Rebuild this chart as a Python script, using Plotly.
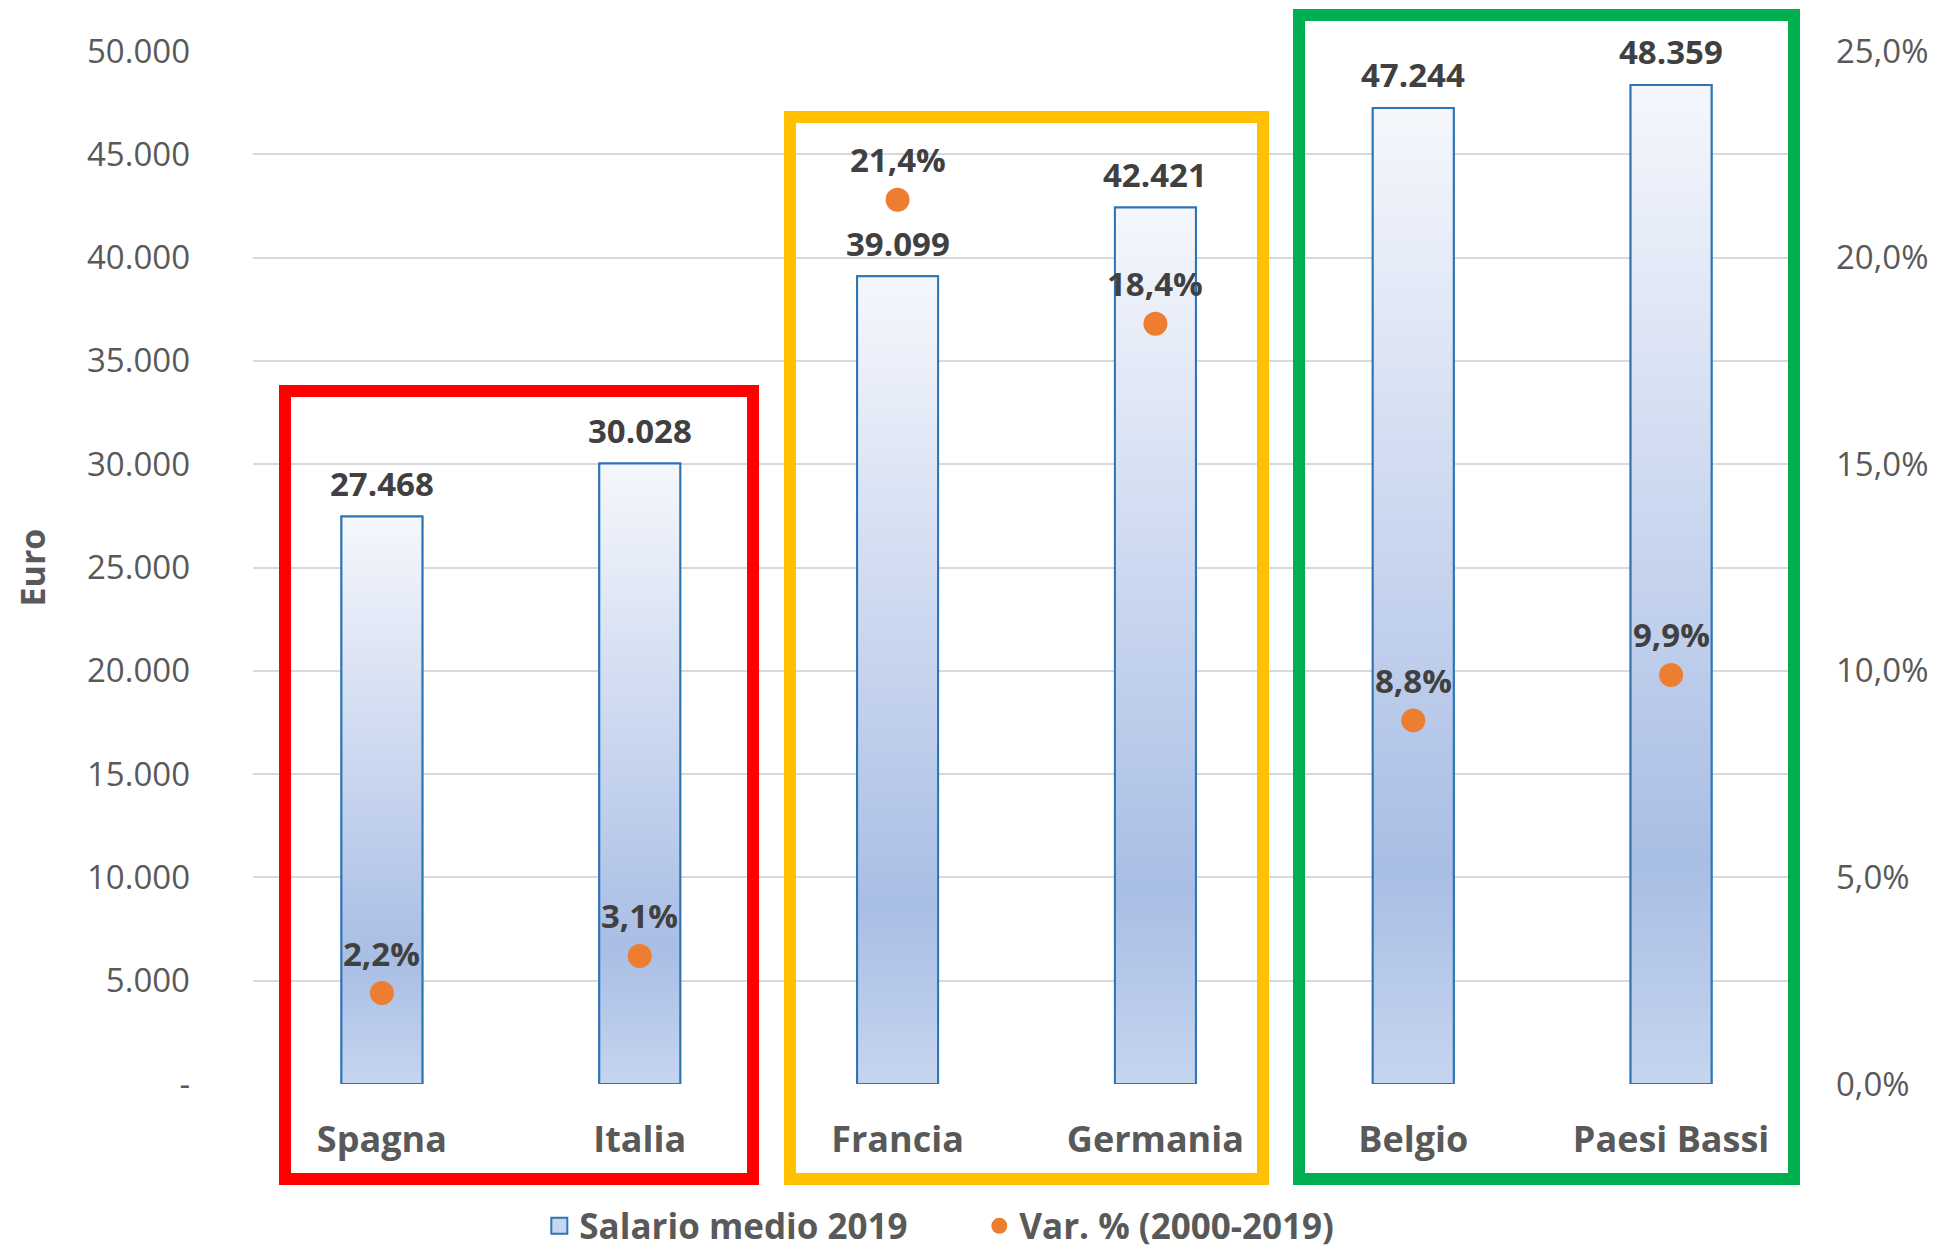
import plotly.graph_objects as go

categories = ["Spagna", "Italia", "Francia", "Germania", "Belgio", "Paesi Bassi"]
salario = [27468, 30028, 39099, 42421, 47244, 48359]
variazione = [0.022, 0.031, 0.214, 0.184, 0.088, 0.099]
salario_labels = ["27.468", "30.028", "39.099", "42.421", "47.244", "48.359"]
var_labels = ["2,2%", "3,1%", "21,4%", "18,4%", "8,8%", "9,9%"]
left_ticks = [0, 5000, 10000, 15000, 20000, 25000, 30000, 35000, 40000, 45000, 50000]
left_ticktext = ["-", "5.000", "10.000", "15.000", "20.000", "25.000", "30.000",
                 "35.000", "40.000", "45.000", "50.000"]
right_ticks = [0, 0.05, 0.10, 0.15, 0.20, 0.25]
right_ticktext = ["0,0%", "5,0%", "10,0%", "15,0%", "20,0%", "25,0%"]

FONT = "Open Sans"
GRAY = "#595959"
DARK = "#404040"
BLUE = "#2E75B6"
BAR_W = 0.314
xs = list(range(len(categories)))

fig = go.Figure()

# base bars
fig.add_trace(go.Bar(
    x=xs, y=salario, width=BAR_W, name="Salario medio 2019",
    marker=dict(color="#cfdbf1", line=dict(color=BLUE, width=2)),
    showlegend=False, hoverinfo="skip",
))

# gradient overlay per bar
for i, v in zip(xs, salario):
    fig.add_trace(go.Scatter(
        x=[i - BAR_W / 2, i + BAR_W / 2, i + BAR_W / 2, i - BAR_W / 2, i - BAR_W / 2],
        y=[0, 0, v, v, 0],
        mode="lines", fill="toself",
        line=dict(color=BLUE, width=2),
        fillgradient=dict(type="vertical",
                          colorscale=[[0, "#c6d5ef"], [0.22, "#a9bee5"], [1, "#f5f7fc"]]),
        showlegend=False, hoverinfo="skip",
    ))

# legend entry for the bars
fig.add_trace(go.Scatter(
    x=[None], y=[None], mode="markers", name="Salario medio 2019",
    marker=dict(symbol="square", size=16, color="#c9d6ef", line=dict(color=BLUE, width=2)),
))

fig.add_trace(go.Scatter(
    x=xs, y=variazione, yaxis="y2", mode="markers", name="Var. % (2000-2019)",
    marker=dict(color="#ED7D31", size=24),
))

annotations = []
for i, v, t in zip(xs, salario, salario_labels):
    annotations.append(dict(x=i, y=v, xref="x", yref="y", text=t, showarrow=False,
                            yanchor="middle", yshift=33,
                            font=dict(family=FONT, size=33, color=DARK, weight="bold")))
for i, v, t in zip(xs, variazione, var_labels):
    annotations.append(dict(x=i, y=v, xref="x", yref="y2", text=t, showarrow=False,
                            yanchor="middle", yshift=40,
                            font=dict(family=FONT, size=33, color=DARK, weight="bold")))
annotations.append(dict(x=-0.1435, y=0.5, xref="paper", yref="paper", text="Euro",
                        showarrow=False, textangle=-90, xanchor="center", yanchor="middle",
                        font=dict(family=FONT, size=34, color=GRAY, weight="bold")))

PW, PH, L, T = 1547.0, 1033.0, 253.0, 51.0
def px(xp):
    return (xp - L) / PW
def py(yp):
    return (T + PH - yp) / PH

boxes = [
    (285, 753, 391, 1179, "#FF0000"),
    (790, 1263, 117, 1179, "#FFC000"),
    (1299, 1794, 15, 1179, "#00B050"),
]
shapes = []
for x0, x1, y0, y1, c in boxes:
    shapes.append(dict(type="rect", xref="paper", yref="paper",
                       x0=px(x0), x1=px(x1), y0=py(y1), y1=py(y0),
                       line=dict(color=c, width=12), layer="above"))

fig.update_layout(
    width=1936, height=1251,
    margin=dict(l=253, r=136, t=51, b=167, autoexpand=False),
    paper_bgcolor="white", plot_bgcolor="white",
    barmode="overlay",
    font=dict(family=FONT, color=GRAY),
    xaxis=dict(range=[-0.5, 5.5], tickvals=xs, ticktext=categories,
               showgrid=False, zeroline=False, showline=False, ticks="",
               ticklabelstandoff=31, automargin=False,
               tickfont=dict(family=FONT, size=36, color=GRAY, weight="bold")),
    yaxis=dict(range=[0, 50000], tickvals=left_ticks, ticktext=left_ticktext,
               showgrid=True, gridcolor="#d9d9d9", gridwidth=2, zeroline=False,
               showline=False, ticks="", ticklabelstandoff=62, automargin=False,
               tickfont=dict(family=FONT, size=33, color=GRAY)),
    yaxis2=dict(range=[0, 0.25], tickvals=right_ticks, ticktext=right_ticktext,
                overlaying="y", side="right", showgrid=False, zeroline=False,
                showline=False, ticks="", ticklabelstandoff=35, automargin=False,
                tickfont=dict(family=FONT, size=33, color=GRAY)),
    legend=dict(orientation="h", x=0.4695, xanchor="center", y=-0.1375, yanchor="middle",
                font=dict(family=FONT, size=35, color=GRAY, weight="bold"),
                entrywidth=395, entrywidthmode="pixels"),
    annotations=annotations,
    shapes=shapes,
    showlegend=True,
)

fig.write_html(
    "out.html",
    config={"displayModeBar": False},
    post_script="document.body.style.margin='0';document.body.style.overflow='hidden';",
)
